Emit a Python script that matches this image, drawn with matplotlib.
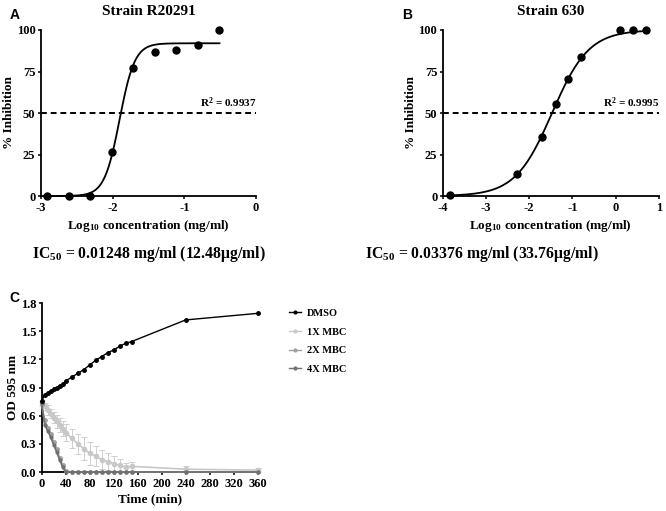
import numpy as np
import matplotlib
matplotlib.use("Agg")
import matplotlib.pyplot as plt
from matplotlib.lines import Line2D

# ---------------- data ----------------
# Panel A: Strain R20291
a_logc = [-2.91, -2.61, -2.31, -2.01, -1.71, -1.41, -1.11, -0.81, -0.51]
a_inhib = [0, 0, 0, 26.5, 77, 87, 88, 91, 100]
a_fit_top, a_fit_bottom, a_fit_logic50, a_fit_hill = 92.0, 0.0, -1.904, 4.1
a_r2 = "R$^2$ = 0.9937"
a_ic50 = "IC$_{50}$ = 0.01248 mg/ml (12.48μg/ml)"

# Panel B: Strain 630
b_logc = [-3.83, -2.29, -1.70, -1.39, -1.10, -0.80, 0.11, 0.41, 0.71]
b_inhib = [0.5, 13.3, 35.3, 55.4, 70.5, 83.5, 100, 100, 100]
b_fit_top, b_fit_bottom, b_fit_logic50, b_fit_hill = 100.0, 0.0, -1.4716, 1.02
b_r2 = "R$^2$ = 0.9995"
b_ic50 = "IC$_{50}$ = 0.03376 mg/ml (33.76μg/ml)"

# Panel C: time-kill
time_min = [0, 5, 10, 15, 20, 25, 30, 35, 40, 50, 60, 70, 80, 90, 100,
            110, 120, 130, 140, 150, 240, 360]
dmso = [0.76, 0.82, 0.84, 0.86, 0.88, 0.90, 0.92, 0.94, 0.97, 1.01, 1.05,
        1.09, 1.14, 1.19, 1.23, 1.27, 1.30, 1.34, 1.37, 1.39, 1.62, 1.69]
mbc1 = [0.73, 0.70, 0.66, 0.62, 0.58, 0.54, 0.50, 0.46, 0.42, 0.36, 0.30,
        0.25, 0.20, 0.17, 0.13, 0.11, 0.09, 0.07, 0.05, 0.06, 0.03, 0.02]
mbc1_err = [0.03, 0.04, 0.05, 0.05, 0.06, 0.07, 0.07, 0.08, 0.09, 0.10, 0.11,
            0.12, 0.12, 0.11, 0.10, 0.09, 0.08, 0.07, 0.05, 0.05, 0.03, 0.02]
mbc2 = [0.72, 0.55, 0.47, 0.40, 0.32, 0.24, 0.15, 0.07, 0.01, 0.0, 0.0,
        0.0, 0.0, 0.0, 0.0, 0.0, 0.0, 0.0, 0.0, 0.0, 0.0, 0.0]
mbc4 = [0.73, 0.50, 0.44, 0.37, 0.29, 0.21, 0.13, 0.05, 0.0, 0.0, 0.0,
        0.0, 0.0, 0.0, 0.0, 0.0, 0.0, 0.0, 0.0, 0.0, 0.0, 0.0]
series_labels = ["DMSO", "1X MBC", "2X MBC", "4X MBC"]

ab_yticks = [0, 25, 50, 75, 100]
a_xticks = [-3, -2, -1, 0]
b_xticks = [-4, -3, -2, -1, 0, 1]
c_xticks = list(range(0, 361, 40))
c_yticks = [0.0, 0.3, 0.6, 0.9, 1.2, 1.5, 1.8]

# ---------------- style ----------------
SERIF = ["Liberation Serif", "DejaVu Serif"]
SANS = ["Liberation Sans", "DejaVu Sans"]
plt.rcParams["font.family"] = SERIF
plt.rcParams["font.weight"] = "bold"
plt.rcParams["axes.linewidth"] = 1.3
plt.rcParams["mathtext.fontset"] = "custom"
plt.rcParams["mathtext.rm"] = "Liberation Serif:bold"
plt.rcParams["mathtext.bf"] = "Liberation Serif:bold"
plt.rcParams["mathtext.it"] = "Liberation Serif:bold:italic"
plt.rcParams["mathtext.default"] = "rm"

fig = plt.figure(figsize=(6.66, 5.11), dpi=100)

TICK_FS = 9


def four_pl(x, top, bottom, logic50, hill):
    x = np.asarray(x)
    return bottom + (top - bottom) / (1 + 10 ** ((logic50 - x) * hill))


def style_axes(ax, fs=TICK_FS):
    for s in ["top", "right"]:
        ax.spines[s].set_visible(False)
    ax.tick_params(direction="out", length=2.5, width=1.1, labelsize=fs, pad=1.5)
    for lab in ax.get_xticklabels() + ax.get_yticklabels():
        lab.set_fontweight("bold")


def dose_panel(rect, logc, inhib, params, xlim, xticks, title, r2, ic50,
               letter, letter_x, ic50_x):
    ax = fig.add_axes(rect)
    xs = np.linspace(min(logc), max(logc), 300)
    ax.plot(xs, four_pl(xs, *params), color="black", lw=1.3, clip_on=False)
    ax.plot(logc, inhib, "o", color="black", ms=5, clip_on=False, zorder=5)
    ax.axhline(50, color="black", lw=1.4, ls=(0, (3, 2)))
    ax.set_xlim(*xlim)
    ax.set_ylim(0, 100)
    ax.set_xticks(xticks)
    ax.set_xticklabels([str(t) for t in xticks])
    ax.set_yticks(ab_yticks)
    style_axes(ax)
    ax.set_ylabel("% Inhibition", fontsize=9.5, fontweight="bold", labelpad=1)
    ax.set_xlabel("Log$_{10}$ concentration (mg/ml)", fontsize=9.5,
                  fontweight="bold", labelpad=3)
    ax.set_title(title, fontsize=11, fontweight="bold", pad=11)
    ax.text(xlim[1], 52, r2, ha="right", va="bottom", fontsize=8,
            fontweight="bold")
    fig.text(letter_x, 0.970, letter, family=SANS, fontsize=10,
             fontweight="bold", ha="left", va="center")
    fig.text(ic50_x, 0.503, ic50, fontsize=11.3, fontweight="bold",
             ha="left", va="center")
    return ax


dose_panel([0.0616, 0.6164, 0.3228, 0.3249], a_logc, a_inhib,
           (a_fit_top, a_fit_bottom, a_fit_logic50, a_fit_hill),
           (-3, 0), a_xticks, "Strain R20291", a_r2, a_ic50, "A", 0.014, 0.048)
dose_panel([0.6649, 0.6164, 0.3243, 0.3249], b_logc, b_inhib,
           (b_fit_top, b_fit_bottom, b_fit_logic50, b_fit_hill),
           (-4, 1), b_xticks, "Strain 630", b_r2, b_ic50, "B", 0.604, 0.548)

# ---------------- panel C ----------------
axc = fig.add_axes([0.0626, 0.0763, 0.3243, 0.3307])
c_colors = ["black", "#c8c8c8", "#a0a0a0", "#707070"]
axc.errorbar(time_min, mbc1, yerr=mbc1_err, color=c_colors[1], lw=1.2,
             marker="o", ms=3, elinewidth=0.6, capsize=2, capthick=0.6,
             clip_on=False, zorder=2)
axc.plot(time_min, mbc2, color=c_colors[2], lw=1.2, marker="o", ms=2.5,
         clip_on=False, zorder=3)
axc.plot(time_min, mbc4, color=c_colors[3], lw=1.2, marker="o", ms=2,
         clip_on=False, zorder=4)
axc.plot(time_min, dmso, color="black", lw=1.0, marker="o", ms=2.5,
         clip_on=False, zorder=5)
axc.set_xlim(0, 360)
axc.set_ylim(0, 1.8)
axc.set_xticks(c_xticks)
axc.set_yticks(c_yticks)
axc.set_yticklabels([f"{v:.1f}" for v in c_yticks])
style_axes(axc)
axc.set_ylabel("OD 595 nm", fontsize=9.5, fontweight="bold", labelpad=1)
axc.set_xlabel("Time (min)", fontsize=9.5, fontweight="bold", labelpad=3)
fig.text(0.014, 0.417, "C", family=SANS, fontsize=10, fontweight="bold",
         ha="left", va="center")

handles = [Line2D([], [], color=c, lw=1.0, marker="o", ms=2)
           for c in c_colors]
leg = fig.legend(handles, series_labels, loc="upper left",
                 bbox_to_anchor=(0.420, 0.414), frameon=False,
                 prop={"family": SERIF, "weight": "bold", "size": 7.5},
                 handlelength=1.1, handletextpad=0.6, labelspacing=0.9)

fig.savefig("out.png", dpi=100)
